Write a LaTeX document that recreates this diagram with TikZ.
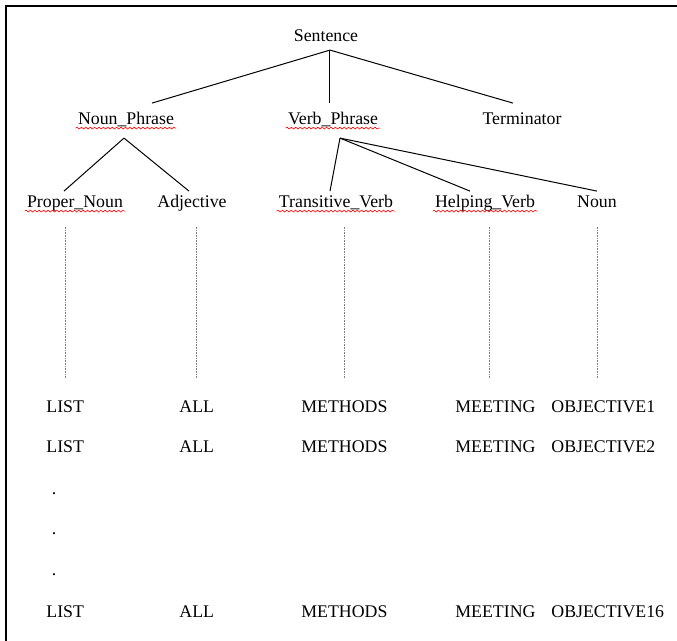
\documentclass[tikz,border=0pt]{standalone}
\usepackage{fontspec}
\setmainfont{Liberation Serif}
\usetikzlibrary{decorations.pathmorphing}
\tikzset{
  word/.style={font=\fontsize{8.9}{10.7}\selectfont, inner xsep=1pt, inner ysep=2pt, text height=6.2pt, text depth=1.9pt},
  phrase/.style={word, inner ysep=4.5pt},
  lexword/.style={word, anchor=west},
  branch/.style={line width=0.5pt},
  lexline/.style={gray, line width=0.4pt, dash pattern=on 0.4pt off 0.4pt, shorten <=9pt, shorten >=5.5pt},
  spellmark/.style={red, line width=0.3pt, decorate, decoration={snake, amplitude=0.45pt, segment length=2.2pt}}
}

\begin{document}
\begin{tikzpicture}[x=0.5pt, y=-0.5pt]
  \useasboundingbox (0,0) rectangle (677,641);
  % frame
  \draw[line width=1pt] (6.5,641) -- (6.5,6.5) -- (677,6.5);

  % tree
  \node[word] (sent) at (326,37.6) {Sentence};
  \node[phrase] (np) at (126,120.6) {Noun\_Phrase};
  \node[phrase] (vp) at (333,120.6) {Verb\_Phrase};
  \node[phrase] (term) at (522,120.6) {Terminator};

  \node[word] (pn) at (75,203.6) {Proper\_Noun};
  \node[word] (adj) at (192,203.6) {Adjective};
  \node[word] (tv) at (336,203.6) {Transitive\_Verb};
  \node[word] (hv) at (485,203.6) {Helping\_Verb};
  \node[word] (noun) at (597,203.6) {Noun};

  \draw[branch] ([xshift=2pt]sent.south) -- ([xshift=13pt]np.north);
  \draw[branch] ([xshift=2pt]sent.south) -- ([xshift=-1.5pt]vp.north);
  \draw[branch] ([xshift=2pt]sent.south) -- ([xshift=-4.5pt]term.north);
  \draw[branch] ([xshift=-1pt]np.south) -- ([xshift=-5.5pt]pn.north);
  \draw[branch] ([xshift=-1pt]np.south) -- ([xshift=-1.5pt]adj.north);
  \draw[branch] ([xshift=3.5pt]vp.south) -- ([xshift=-3pt]tv.north);
  \draw[branch] ([xshift=3.5pt]vp.south) -- ([xshift=-7.5pt]hv.north);
  \draw[branch] ([xshift=3.5pt]vp.south) -- (noun.north);

  % spell-check underlines
  \foreach \n in {np,vp,pn,tv,hv}
    \draw[spellmark] ([yshift=-1.6pt]\n.base west) -- ([yshift=-1.6pt]\n.base east);

  % words
  \node[lexword] (la) at (44,408.6) {LIST};
  \node[lexword] (aa) at (177,408.6) {ALL};
  \node[lexword] (ma) at (299,408.6) {METHODS};
  \node[lexword] (ea) at (453,408.6) {MEETING};
  \node[lexword] (oa) at (549,408.6) {OBJECTIVE1};

  \node[lexword] (lb) at (44,448.6) {LIST};
  \node[lexword] (ab) at (177,448.6) {ALL};
  \node[lexword] (mb) at (299,448.6) {METHODS};
  \node[lexword] (eb) at (453,448.6) {MEETING};
  \node[lexword] (ob) at (549,448.6) {OBJECTIVE2};

  \node[word, anchor=base] (dota) at (54,495) {.};
  \node[word, anchor=base] (dotb) at (54,535) {.};
  \node[word, anchor=base] (dotc) at (54,576) {.};

  \node[lexword] (lc) at (44,613) {LIST};
  \node[lexword] (ac) at (177,613) {ALL};
  \node[lexword] (mc) at (299,613) {METHODS};
  \node[lexword] (ec) at (453,613) {MEETING};
  \node[lexword] (oc) at (549,613) {OBJECTIVE16};

  % lexical links
  \draw[lexline] (la.north) -- (la.north |- pn.south);
  \draw[lexline] (aa.north) -- (aa.north |- adj.south);
  \draw[lexline] (ma.north) -- (ma.north |- tv.south);
  \draw[lexline] ([xshift=-3pt]ea.north) -- ([xshift=-3pt]ea.north |- hv.south);
  \draw[lexline] (noun.south |- oa.north) -- (noun.south);
\end{tikzpicture}
\end{document}
